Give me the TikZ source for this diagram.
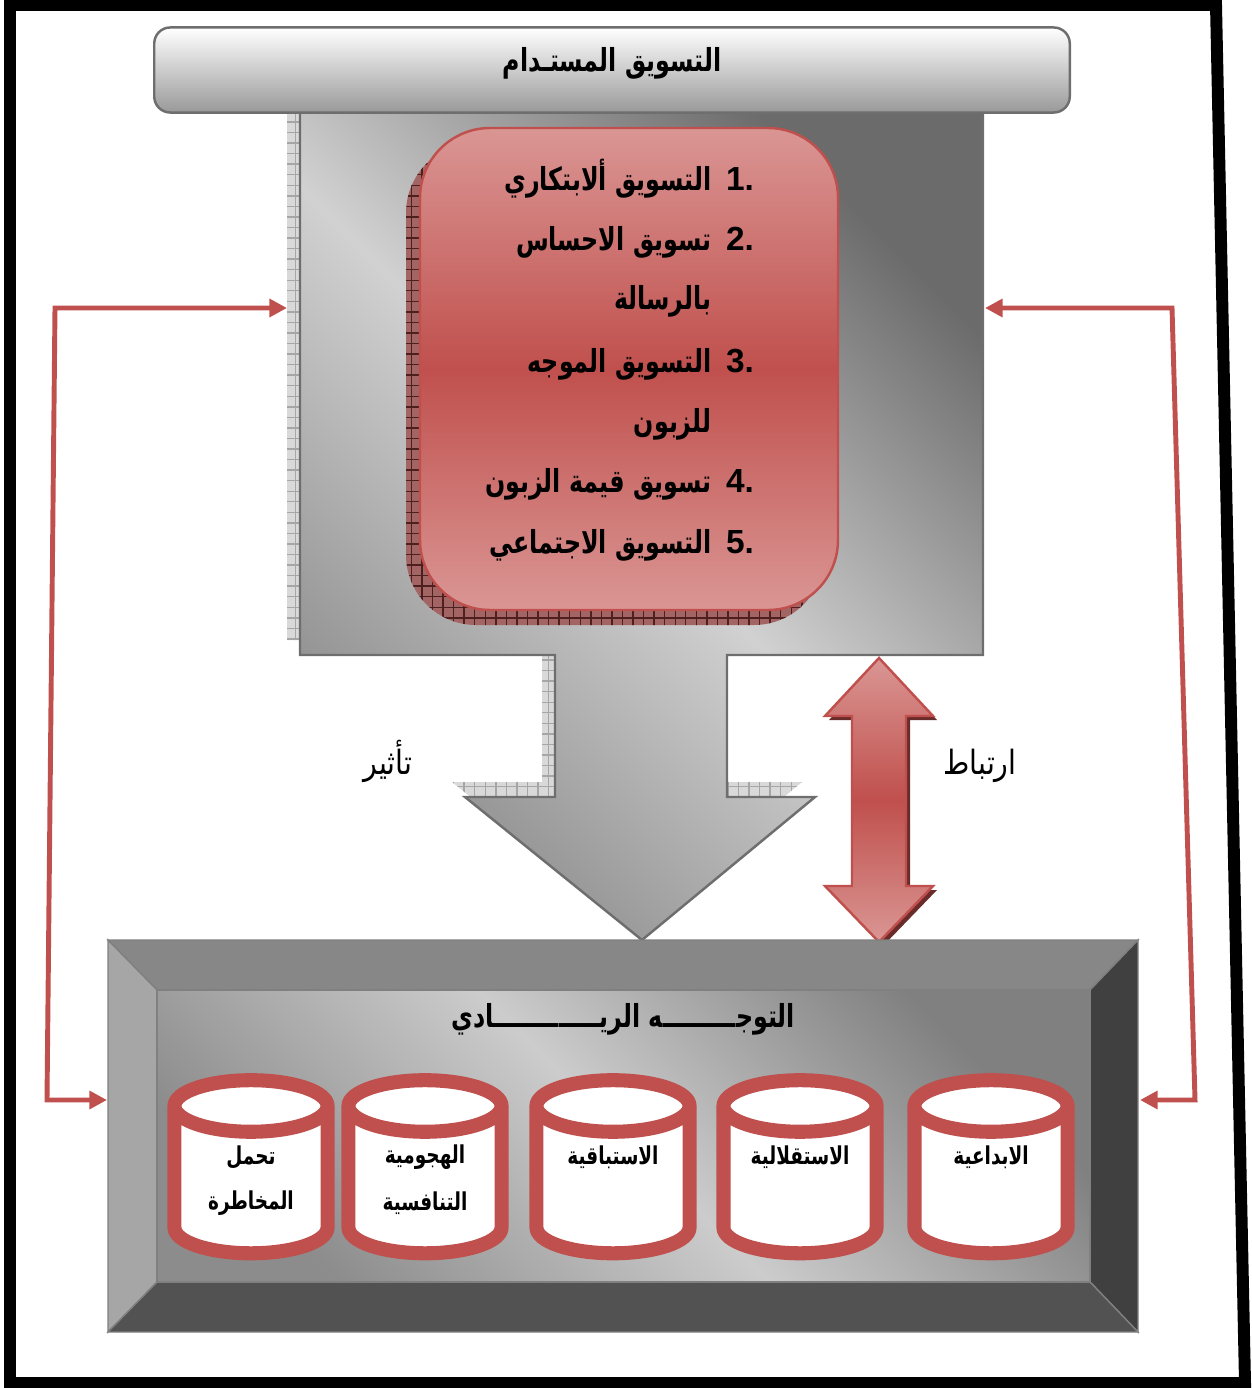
\documentclass[tikz,border=0pt]{standalone}
\usepackage{fontspec}
\setmainfont{Liberation Sans}
\newfontfamily\arabicfont[Script=Arabic, FakeStretch=0.75]{DejaVu Sans}
\newfontfamily\arabicplain[Script=Arabic, FakeStretch=0.85]{DejaVu Sans}
\TeXXeTstate=1
\usetikzlibrary{positioning,patterns,shapes.geometric,arrows.meta}
\definecolor{accred}{HTML}{C0504D}
\definecolor{palered}{HTML}{DA9694}
\definecolor{edgegray}{HTML}{6E6E6E}
\newcommand{\artext}[1]{\arabicfont\beginR #1\endR}
\newcommand{\arplain}[1]{\arabicplain\beginR #1\endR}

\begin{document}
\begin{tikzpicture}
        [x=0.01cm, y=-0.01cm,
         title_style/.style={draw=edgegray, line width=0.7pt, rounded corners=0.16cm, top color=white, bottom color=black!40},
         hatch_style/.style={pattern=grid, pattern color=gray!70, preaction={fill=gray!30}},
         hatch_red_style/.style={pattern=grid, pattern color=black!60!accred, preaction={fill=accred!55!gray}},
         gray_shape_style/.style={draw=edgegray, line width=0.7pt, top color=black!58, bottom color=black!45, middle color=black!18, shading angle=-45},
         red_box_style/.style={draw=accred, line width=0.7pt, rounded corners=0.7cm, top color=palered, bottom color=palered, middle color=accred},
         red_arrow_style/.style={draw=accred, line width=0.7pt, top color=palered, bottom color=palered, middle color=accred},
         item_num/.style={font=\fontsize{9.5}{12}\selectfont\bfseries, anchor=base},
         item_text/.style={font=\fontsize{9}{12}\selectfont\bfseries, anchor=base east, inner sep=0pt},
         head_text/.style={font=\fontsize{9}{12}\selectfont\bfseries, anchor=base},
         plain_text/.style={font=\fontsize{9.5}{12}\selectfont, anchor=base},
         cyl_style/.style={cylinder, shape border rotate=90, aspect=2.2, minimum width=1.53cm, minimum height=1.73cm, draw=accred, line width=4pt, fill=white},
         cyl_label/.style={font=\fontsize{7}{9}\selectfont\bfseries},
         loop_style/.style={draw=accred, line width=1.4pt, {Triangle[length=5pt,width=5pt]}-{Triangle[length=5pt,width=5pt]}}]
            \useasboundingbox (0,0) rectangle (1251,1388);
            % outer frame
            \draw[line width=3.4pt, line join=miter] (10,5) -- (1216,5) -- (1245,1383) -- (10,1383) -- cycle;
            % sustainable marketing block with the influence arrow
            \path[hatch_style, shift={(-13,-15)}] (300,112) -- (983,112) -- (983,655) -- (727,655) -- (727,797) -- (815,797) -- (642,940) -- (465,797) -- (555,797) -- (555,655) -- (300,655) -- cycle;
            \path[gray_shape_style] (300,112) -- (983,112) -- (983,655) -- (727,655) -- (727,797) -- (815,797) -- (642,940) -- (465,797) -- (555,797) -- (555,655) -- (300,655) -- cycle;
            \node[title_style, minimum width=9.15cm, minimum height=0.85cm] (title) at (612,70) {};
            \node[head_text] (title_txt) at (612,72) {\artext{التسويق المستـدام}};
            % list box
            \path[hatch_red_style, rounded corners=0.7cm, shift={(-14,15)}] (420,128) rectangle (838,610);
            \path[red_box_style] (420,128) rectangle (838,610);
            \node[item_num] (n1) at (740,190) {1.};
            \node[item_num] (n2) at (740,250) {2.};
            \node[item_num] (n3) at (740,372) {3.};
            \node[item_num] (n4) at (740,492) {4.};
            \node[item_num] (n5) at (740,553) {5.};
            \node[item_text] (t1) at (712,190) {\artext{التسويق ألابتكاري}};
            \node[item_text] (t2) at (712,250) {\artext{تسويق الاحساس}};
            \node[item_text] (t2b) at (712,309) {\artext{بالرسالة}};
            \node[item_text] (t3) at (712,372) {\artext{التسويق الموجه}};
            \node[item_text] (t3b) at (712,432) {\artext{للزبون}};
            \node[item_text] (t4) at (712,492) {\artext{تسويق قيمة الزبون}};
            \node[item_text] (t5) at (712,553) {\artext{التسويق الاجتماعي}};
            % link arrow
            \path[fill=black!45!accred, shift={(4,4)}] (879,658) -- (933,716) -- (906,716) -- (906,886) -- (933,886) -- (879,942) -- (825,886) -- (852,886) -- (852,716) -- (825,716) -- cycle;
            \path[red_arrow_style] (879,658) -- (933,716) -- (906,716) -- (906,886) -- (933,886) -- (879,942) -- (825,886) -- (852,886) -- (852,716) -- (825,716) -- cycle;
            \node[plain_text] (effect) at (388,774) {\arplain{تأثير}};
            \node[plain_text] (link) at (980,774) {\arplain{ارتباط}};
            % entrepreneurial orientation frame
            \draw[fill=black!47, draw=black!50] (108,940) -- (1138,940) -- (1090,990) -- (157,990) -- cycle;
            \draw[fill=black!35, draw=black!50] (108,940) -- (157,990) -- (157,1282) -- (108,1332) -- cycle;
            \draw[fill=black!75, draw=black!50] (1138,940) -- (1138,1332) -- (1090,1282) -- (1090,990) -- cycle;
            \draw[fill=black!68, draw=black!50] (108,1332) -- (157,1282) -- (1090,1282) -- (1138,1332) -- cycle;
            \path[draw=black!50, top color=black!50, bottom color=black!45, middle color=black!20, shading angle=-45] (157,990) rectangle (1090,1282);
            \node[head_text] (orient) at (623,1027) {\artext{التوجـــــــــه الريـــــــــــــادي}};
            \foreach \cx/\nm in {251/c1, 425/c2, 613/c3, 800/c4, 991/c5}
                \node[cyl_style] (\nm) at (\cx,1190) {};
            \node[cyl_label] (l1) at (251,1157) {\artext{تحمل}};
            \node[cyl_label] (l1b) at (251,1203) {\artext{المخاطرة}};
            \node[cyl_label] (l2) at (425,1157) {\artext{الهجومية}};
            \node[cyl_label] (l2b) at (425,1203) {\artext{التنافسية}};
            \node[cyl_label] (l3) at (613,1157) {\artext{الاستباقية}};
            \node[cyl_label] (l4) at (800,1157) {\artext{الاستقلالية}};
            \node[cyl_label] (l5) at (991,1157) {\artext{الابداعية}};
            % feedback loops
            \coordinate (mkt_w) at (287,308);
            \coordinate (mkt_e) at (985,308);
            \coordinate (ent_w) at (107,1100);
            \coordinate (ent_e) at (1140,1100);
            \draw[loop_style] (mkt_w) -- (55,308) -- (47,1100) -- (ent_w);
            \draw[loop_style] (mkt_e) -- (1172,308) -- (1195,1100) -- (ent_e);
        \end{tikzpicture}
\end{document}
